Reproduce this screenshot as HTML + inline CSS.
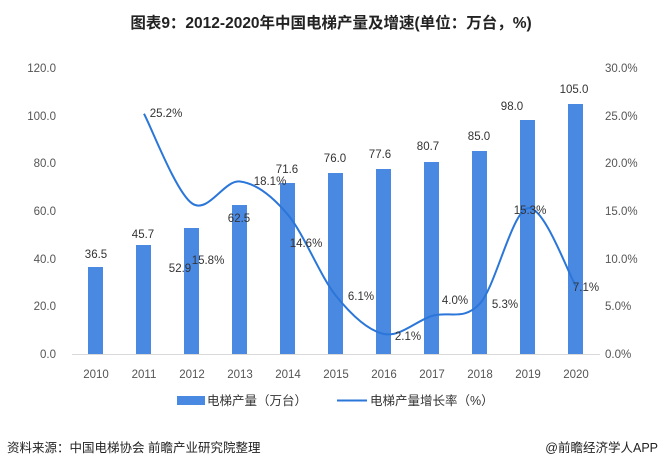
<!DOCTYPE html>
<html><head><meta charset="utf-8"><style>
body{margin:0;background:#fff;width:662px;height:469px;overflow:hidden}
svg text{font-family:"Liberation Sans","Noto Sans CJK SC",sans-serif}
</style></head><body>
<svg width="662" height="469" xmlns="http://www.w3.org/2000/svg">
<text x="331" y="28" text-anchor="middle" font-size="15.5" font-weight="bold" fill="#222">图表9：2012-2020年中国电梯产量及增速(单位：万台，%)</text>
<g font-size="11.5" fill="#555" text-anchor="end">
<text x="56" y="72">120.0</text><text x="56" y="120">100.0</text><text x="56" y="167">80.0</text><text x="56" y="215">60.0</text><text x="56" y="263">40.0</text><text x="56" y="310">20.0</text><text x="56" y="358">0.0</text>
</g>
<g font-size="11.5" fill="#555" text-anchor="start">
<text x="605" y="72">30.0%</text><text x="605" y="120">25.0%</text><text x="605" y="167">20.0%</text><text x="605" y="215">15.0%</text><text x="605" y="263">10.0%</text><text x="605" y="310">5.0%</text><text x="605" y="358">0.0%</text>
</g>
<line x1="72" y1="354.5" x2="600" y2="354.5" stroke="#d9d9d9"/>
<g fill="#4a89e2">
<rect x="88" y="267" width="15" height="87"/>
<rect x="136" y="245" width="15" height="109"/>
<rect x="184" y="228" width="15" height="126"/>
<rect x="232" y="205" width="15" height="149"/>
<rect x="280" y="183" width="15" height="171"/>
<rect x="328" y="173" width="15" height="181"/>
<rect x="376" y="169" width="15" height="185"/>
<rect x="424" y="162" width="15" height="192"/>
<rect x="472" y="151" width="15" height="203"/>
<rect x="520" y="120" width="15" height="234"/>
<rect x="568" y="104" width="15" height="250"/>
</g>
<path id="ln" fill="none" stroke="#2b76d9" stroke-width="2" d=""/>
<g font-size="11.5" fill="#333" text-anchor="middle">
<text x="96" y="258">36.5</text><text x="143" y="238">45.7</text><text x="166" y="117">25.2%</text>
<text x="180" y="272">52.9</text><text x="208" y="264">15.8%</text>
<text x="239" y="222">62.5</text><text x="270" y="185">18.1%</text>
<text x="287" y="173">71.6</text><text x="306" y="247">14.6%</text>
<text x="335" y="162">76.0</text><text x="361" y="300">6.1%</text>
<text x="380" y="158">77.6</text><text x="408" y="340">2.1%</text>
<text x="428" y="150">80.7</text><text x="455" y="304">4.0%</text>
<text x="479" y="140">85.0</text><text x="505" y="308">5.3%</text>
<text x="512" y="110">98.0</text><text x="530" y="214">15.3%</text>
<text x="574" y="93">105.0</text><text x="586" y="291">7.1%</text>
</g>
<g font-size="11.5" fill="#555" text-anchor="middle">
<text x="96" y="378">2010</text><text x="144" y="378">2011</text><text x="192" y="378">2012</text><text x="240" y="378">2013</text><text x="288" y="378">2014</text><text x="336" y="378">2015</text><text x="384" y="378">2016</text><text x="432" y="378">2017</text><text x="480" y="378">2018</text><text x="528" y="378">2019</text><text x="576" y="378">2020</text>
</g>
<rect x="177" y="396" width="28" height="9" fill="#4a89e2"/>
<text x="207" y="405" font-size="12.5" fill="#333">电梯产量（万台）</text>
<line x1="337" y1="400.5" x2="367" y2="400.5" stroke="#2b76d9" stroke-width="2"/>
<text x="370" y="405" font-size="12.5" fill="#333">电梯产量增长率（%）</text>
<text x="7" y="452" font-size="12.5" fill="#222">资料来源：中国电梯协会 前瞻产业研究院整理</text>
<text x="658" y="452" font-size="12.5" fill="#222" text-anchor="end">@前瞻经济学人APP</text>
</svg>
<script>
var v=[25.2,15.8,18.1,14.6,6.1,2.1,4.0,5.3,15.3,7.1];
var P=v.map(function(p,i){return [144+48*i,354-p*9.533];});
var d="M"+P[0][0]+","+P[0][1];
for(var i=0;i<P.length-1;i++){var a=P[i-1]||P[i],b=P[i],c=P[i+1],e=P[i+2]||c;
d+=" C"+(b[0]+(c[0]-a[0])/6)+","+(b[1]+(c[1]-a[1])/6)+" "+(c[0]-(e[0]-b[0])/6)+","+(c[1]-(e[1]-b[1])/6)+" "+c[0]+","+c[1];}
document.getElementById("ln").setAttribute("d",d);
</script>
</body></html>
